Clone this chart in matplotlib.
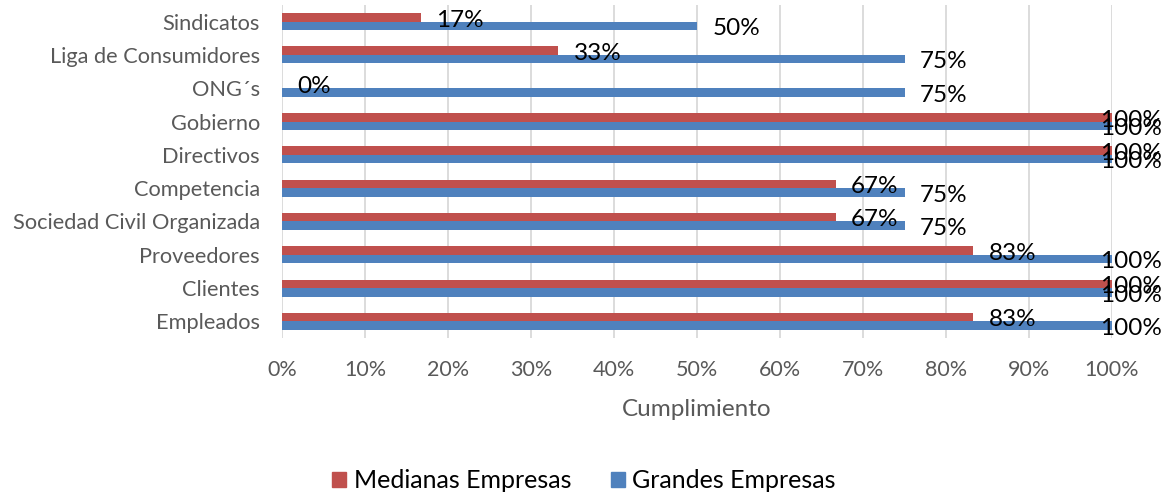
import matplotlib
matplotlib.use("Agg")
import matplotlib.pyplot as plt
import numpy as np
from matplotlib.patches import Patch

plt.rcParams['font.family'] = ['Lato', 'DejaVu Sans']

categories = ["Empleados", "Clientes", "Proveedores", "Sociedad Civil Organizada",
              "Competencia", "Directivos", "Gobierno", "ONG´s",
              "Liga de Consumidores", "Sindicatos"]
medianas = [83.3, 100, 83.3, 66.7, 66.7, 100, 100, 0, 33.3, 16.7]
grandes = [100, 100, 100, 75, 75, 100, 100, 75, 75, 50]
series_names = ["Medianas Empresas", "Grandes Empresas"]
x_ticks = list(range(0, 101, 10))
x_label = "Cumplimiento"

RED = "#C0504D"
BLUE = "#4F81BD"
GRID = "#D9D9D9"
TEXT_GRAY = "#595959"

fig = plt.figure(figsize=(11.71, 4.97), dpi=100)
ax = fig.add_axes([282 / 1171, 1 - 338 / 497, (1112 - 282) / 1171, (338 - 5) / 497])

y = np.arange(len(categories))
h = 0.256
ax.barh(y + h / 2, medianas, height=h, color=RED, zorder=3)
ax.barh(y - h / 2, grandes, height=h, color=BLUE, zorder=3)

ax.set_xlim(0, 100)
ax.set_ylim(-0.5, len(categories) - 0.5)
ax.set_xticks(x_ticks)
ax.set_xticklabels([f"{t}%" for t in x_ticks], fontsize=15.5, color=TEXT_GRAY)
ax.set_yticks(y)
ax.set_yticklabels(categories, fontsize=15.7, color=TEXT_GRAY)
ax.tick_params(axis='both', length=0)
ax.tick_params(axis='x', pad=15.5)
ax.tick_params(axis='y', pad=16)
ax.grid(axis='x', color=GRID, linewidth=1.3, zorder=0)
for s in ax.spines.values():
    s.set_visible(False)

ax.set_xlabel(x_label, fontsize=17.5, color=TEXT_GRAY, labelpad=14)


def add_label(value, ypos):
    text = f"{value:.0f}%"
    if value >= 100:
        ax.annotate(text, xy=(value, ypos), xytext=(36, -2), textcoords='offset points',
                    ha='right', va='center', fontsize=17.5, color='black', zorder=5)
    else:
        ax.annotate(text, xy=(value, ypos), xytext=(11, -2), textcoords='offset points',
                    ha='left', va='center', fontsize=17.5, color='black', zorder=5)


for i in range(len(categories)):
    add_label(medianas[i], y[i] + h / 2)
    add_label(grandes[i], y[i] - h / 2)

handles = [Patch(color=RED), Patch(color=BLUE)]
fig.legend(handles, series_names, loc='center', bbox_to_anchor=(584 / 1171, 1 - 481 / 497),
           ncol=2, frameon=False, fontsize=18, handlelength=0.55, handleheight=0.55,
           handletextpad=0.3, columnspacing=1.6, borderpad=0)

fig.savefig("out.png", dpi=100)
